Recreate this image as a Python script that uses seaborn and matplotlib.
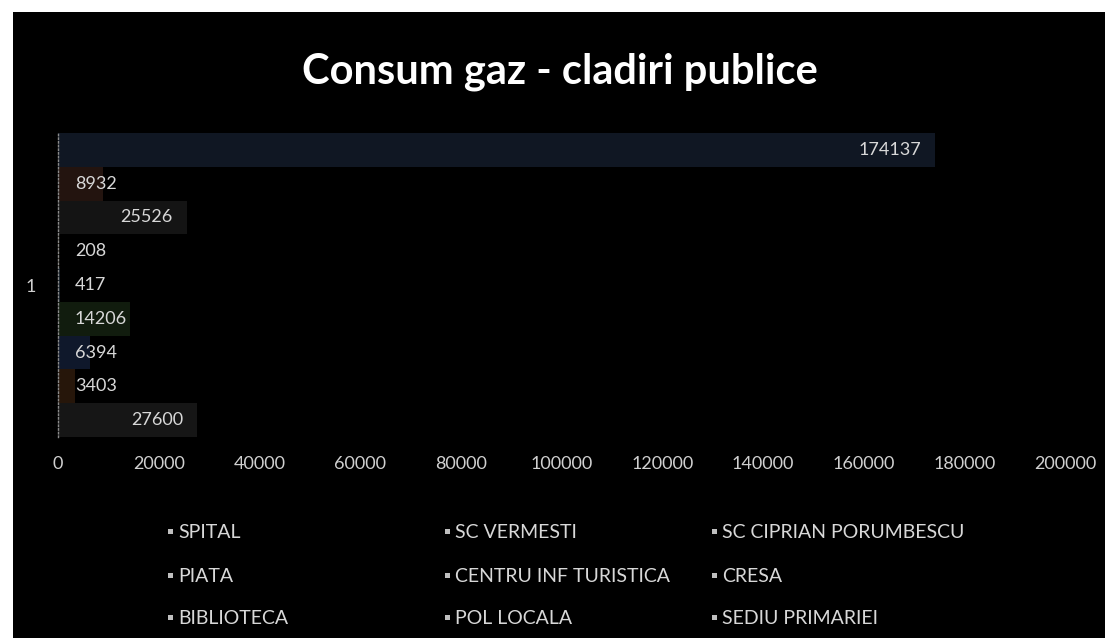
import matplotlib
matplotlib.use("Agg")
import matplotlib.pyplot as plt
import seaborn as sns
import pandas as pd
from matplotlib.patches import Rectangle

# consum gaz pe cladiri (o singura categorie "1")
cladiri = ["SPITAL", "SC VERMESTI", "SC CIPRIAN PORUMBESCU",
           "PIATA", "CENTRU INF TURISTICA", "CRESA",
           "BIBLIOTECA", "POL LOCALA", "SEDIU PRIMARIEI"]
consum = [174137, 8932, 25526, 208, 417, 14206, 6394, 3403, 27600]
categorie = ["1"] * len(cladiri)
x_ticks = list(range(0, 200001, 20000))

# culori foarte inchise, ca in original (barele abia se vad pe fundal negru)
culori = ["#0d1626", "#26120c", "#141414", "#261e08", "#0b1824",
          "#101e0c", "#0a1630", "#2a1606", "#161616"]

df = pd.DataFrame({"cladire": cladiri, "consum": consum, "cat": categorie})

sns.set_theme(style="dark")
plt.rcParams["font.family"] = ["Lato", "DejaVu Sans"]

fig = plt.figure(figsize=(11.05, 6.38), dpi=100, facecolor="white")
# fundal negru (cu marginea alba de sus/stanga din scanare)
fig.add_artist(Rectangle((13 / 1105, 0), 1, 1 - 12 / 638, transform=fig.transFigure,
                         facecolor="black", edgecolor="none", zorder=-10))

ax = fig.add_axes([58 / 1105, 1 - 437 / 638, (1065 - 58) / 1105, (437 - 133) / 638])
ax.set_facecolor("black")

sns.barplot(data=df, x="consum", y="cat", hue="cladire", hue_order=cladiri,
            palette=culori, orient="h", width=1.0, legend=False,
            edgecolor="none", linewidth=0, ax=ax)

ax.set_xlim(0, 200000)
ax.set_ylim(0.5, -0.5)
ax.set_xticks(x_ticks)
ax.set_xticklabels([str(t) for t in x_ticks])
ax.set_xlabel("")
ax.set_ylabel("")
ax.grid(False)
for s in ["top", "right", "bottom"]:
    ax.spines[s].set_visible(False)
ax.spines["left"].set_color("#8a8a8a")
ax.spines["left"].set_linestyle(":")
ax.spines["left"].set_linewidth(1)
ax.tick_params(axis="x", colors="#d0d0d0", labelsize=13, length=0, pad=14)
ax.tick_params(axis="y", colors="#d0d0d0", labelsize=13, length=0, pad=16)

# etichete de valori (interior capat, lipite de baza pentru valori mici)
for cont, val in zip(ax.containers, consum):
    bar = cont[0]
    y = bar.get_y() + bar.get_height() / 2
    if val > 20000:
        ax.annotate(str(val), xy=(val, y), xytext=(-14, 0), textcoords="offset pixels",
                    ha="right", va="center", color="#d8d8d8", fontsize=13)
    else:
        ax.annotate(str(val), xy=(0, y), xytext=(17, 0), textcoords="offset pixels",
                    ha="left", va="center", color="#d8d8d8", fontsize=13)

fig.text(0.507, 0.887, "Consum gaz - cladiri publice", ha="center", va="center",
         color="white", fontsize=30, fontweight="bold")

# legenda pe 3 coloane, ca in Excel
leg_x = [178 / 1105, 455 / 1105, 722 / 1105]
leg_y = [1 - 532 / 638, 1 - 576 / 638, 1 - 618 / 638]
for i, nume in enumerate(cladiri):
    r, c = divmod(i, 3)
    fig.add_artist(Rectangle((leg_x[c] - 10 / 1105, leg_y[r] - 2 / 638), 5 / 1105, 5 / 638,
                             transform=fig.transFigure, facecolor="#bfbfbf",
                             edgecolor="none"))
    fig.text(leg_x[c], leg_y[r], nume, ha="left", va="center", color="#d8d8d8",
             fontsize=14)

fig.savefig("out.png", dpi=100, facecolor=fig.get_facecolor())
